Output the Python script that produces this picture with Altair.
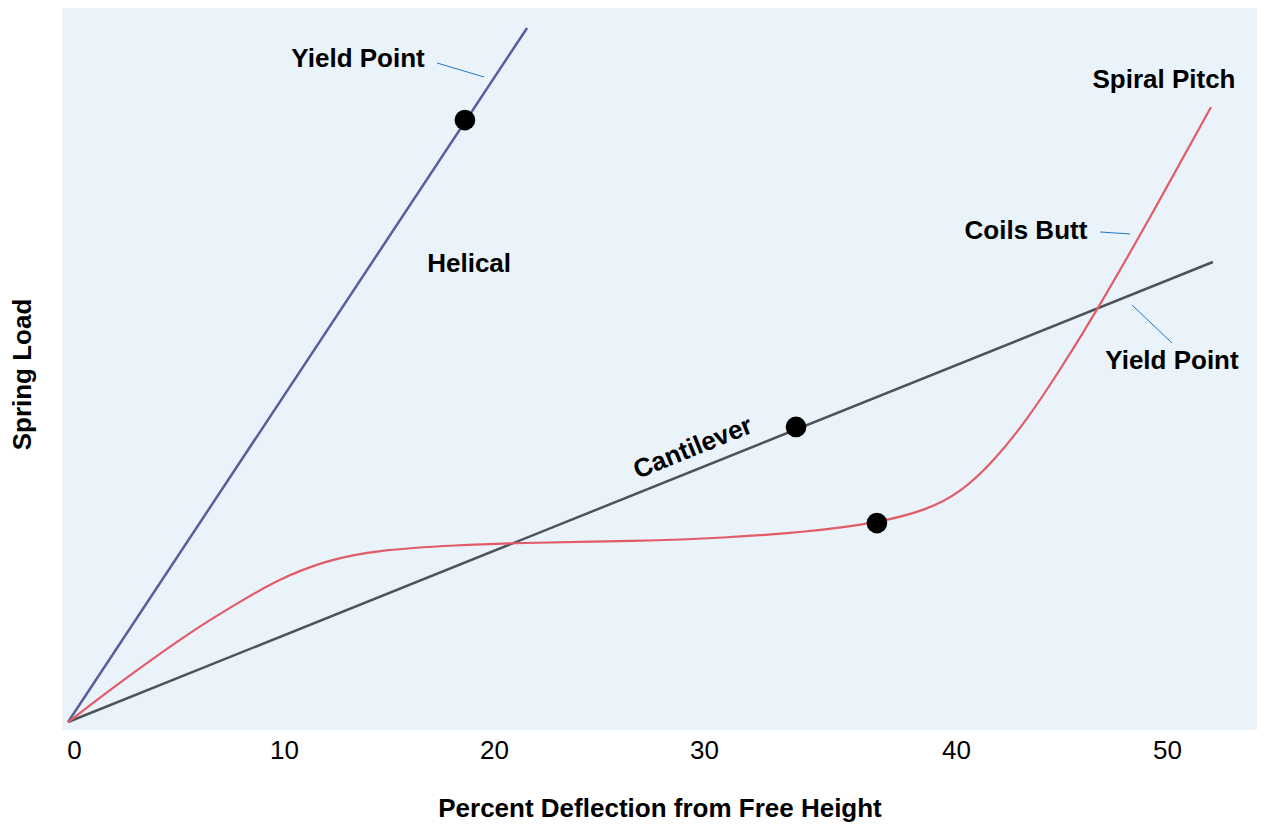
import altair as alt
import pandas as pd

# ---- data (x: percent deflection, y: relative spring load) ----
helical_x = [0.0, 21.86]
helical_y = [0.0, 97.2]

cantilever_x = [0.0, 52.46]
cantilever_y = [0.0, 64.43]

spiral_x = [0.0, 2.81, 5.95, 8.33, 9.95, 12.33, 14.71, 18.67, 21.19, 27.24, 30.99,
            34.33, 37.10, 39.09, 40.47, 42.04, 43.65, 45.21, 46.78, 49.48, 52.37]
spiral_y = [0.0, 6.30, 12.89, 17.09, 19.89, 22.69, 24.09, 24.79, 25.07, 25.35, 25.77,
            26.61, 27.87, 29.69, 32.07, 36.41, 42.30, 49.30, 56.72, 70.59, 86.13]

# yield points
dot_x = [18.90, 33.89, 37.10]
dot_y = [84.31, 41.32, 27.87]

# annotation texts
label_text = ["Yield Point", "Helical", "Spiral Pitch", "Coils Butt", "Yield Point"]
label_x = [13.81, 19.10, 50.14, 43.60, 50.52]
label_y = [92.86, 64.15, 89.92, 68.77, 50.56]

cant_label = ["Cantilever"]
cant_x = [29.76]
cant_y = [38.38]

# leader lines
lead_x = [17.57, 47.11, 48.63]
lead_y = [92.3, 68.63, 58.40]
lead_x2 = [19.81, 48.53, 50.52]
lead_y2 = [90.34, 68.35, 53.08]

tick_values = [0, 10, 20, 30, 40, 50]

series_names = ["Helical", "Cantilever", "Spiral Pitch"]
series_colors = ["#5b5e9c", "#4e535a", "#e25c67"]

rows = []
for name, xs, ys in [("Helical", helical_x, helical_y),
                     ("Cantilever", cantilever_x, cantilever_y)]:
    for i, (a, b) in enumerate(zip(xs, ys)):
        rows.append({"series": name, "x": a, "y": b, "o": i})
straight_df = pd.DataFrame(rows)
spiral_df = pd.DataFrame({"series": "Spiral Pitch", "x": spiral_x, "y": spiral_y,
                          "o": list(range(len(spiral_x)))})
dots_df = pd.DataFrame({"x": dot_x, "y": dot_y})
labels_df = pd.DataFrame({"t": label_text, "x": label_x, "y": label_y})
cant_df = pd.DataFrame({"t": cant_label, "x": cant_x, "y": cant_y})
lead_df = pd.DataFrame({"x": lead_x, "y": lead_y, "x2": lead_x2, "y2": lead_y2})

FONT = "Liberation Sans"
FS = 26

# the original's axis labels are unevenly spaced (30->40 is wider), so a piecewise scale
xscale = alt.Scale(domain=[-0.29, 30, 40, 54.55], range=[0, 636, 888, 1195], nice=False, zero=False)
yscale = alt.Scale(domain=[-1.12, 100], nice=False, zero=False)

xenc = alt.X("x:Q", scale=xscale,
             axis=alt.Axis(values=tick_values, title="Percent Deflection from Free Height",
                           grid=False, domain=False, ticks=False, labelFontSize=26,
                           labelFont=FONT, labelColor="#000", labelPadding=7, labelOffset=6,
                           labelFlush=False,
                           titleFont=FONT, titleFontSize=FS, titleFontWeight="bold",
                           titleColor="#000", titleY=86.5, titleBaseline="alphabetic"))
yenc = alt.Y("y:Q", scale=yscale,
             axis=alt.Axis(title="Spring Load", grid=False, domain=False, ticks=False,
                           labels=False, titleFont=FONT, titleFontSize=FS,
                           titleFontWeight="bold", titleColor="#000", titleAngle=270,
                           titleX=-40, titleY=366, titleAlign="center",
                           titleBaseline="middle"))
cscale = alt.Scale(domain=series_names, range=series_colors)

straight = alt.Chart(straight_df).mark_line(strokeWidth=2.5).encode(
    x=xenc, y=yenc, order="o:Q",
    color=alt.Color("series:N", scale=cscale, legend=None),
    detail="series:N",
)
spiral = alt.Chart(spiral_df).mark_line(strokeWidth=2.2, interpolate="basis").encode(
    x="x:Q", y="y:Q", order="o:Q",
    color=alt.Color("series:N", scale=cscale, legend=None),
)

dots = alt.Chart(dots_df).mark_circle(size=430, color="#000", opacity=1).encode(
    x="x:Q", y="y:Q")

leads = alt.Chart(lead_df).mark_rule(color="#1f78c8", strokeWidth=1).encode(
    x="x:Q", y="y:Q", x2="x2:Q", y2="y2:Q")

labels = alt.Chart(labels_df).mark_text(font=FONT, fontSize=FS, fontWeight="bold",
                                        color="#000", align="center",
                                        baseline="middle").encode(
    x="x:Q", y="y:Q", text="t:N")

cant = alt.Chart(cant_df).mark_text(font=FONT, fontSize=FS, fontWeight="bold",
                                    color="#000", align="center", baseline="middle",
                                    angle=338).encode(
    x="x:Q", y="y:Q", text="t:N")

chart = alt.layer(straight, spiral, leads, dots, labels, cant).properties(
    width=1195, height=722,
    autosize="none",
    padding={"left": 54, "top": 0, "right": 0, "bottom": 92},
    background="#ffffff",
).configure_view(fill="#eaf2fa", stroke=None)

chart.save("out.html", embed_options={"renderer": "svg", "actions": False})
